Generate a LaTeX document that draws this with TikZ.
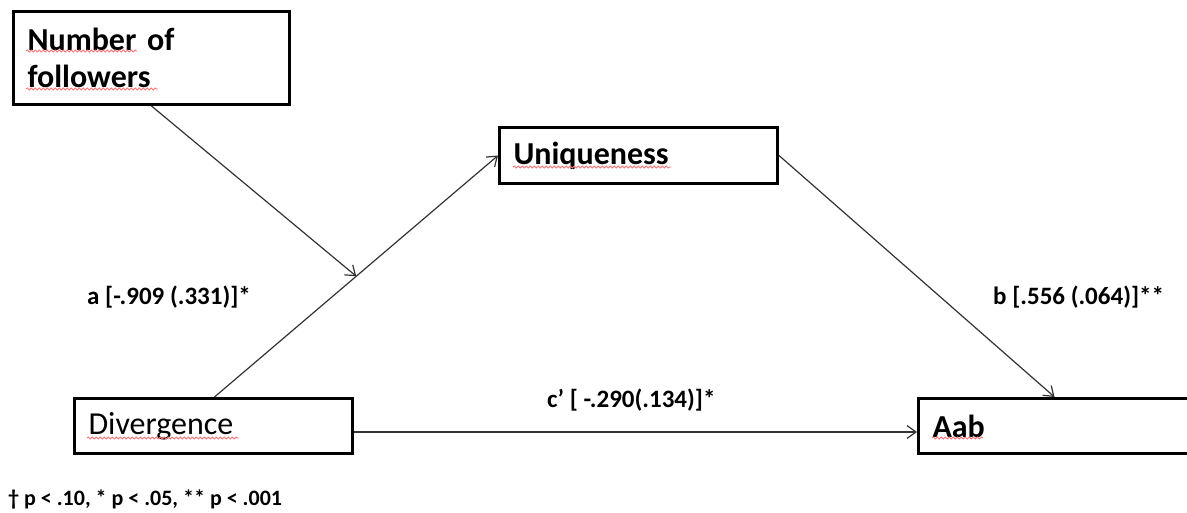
\documentclass[tikz,border=0pt]{standalone}
\usepackage{fontspec}
\setmainfont{Carlito}
\usetikzlibrary{arrows.meta,calc,decorations.pathmorphing}
\tikzset{
  varbox/.style={draw=black, line width=3pt, fill=white, anchor=north west, align=left,
    inner xsep=14pt, inner ysep=0pt, font=\fontsize{32}{37}\selectfont},
  conn/.style={draw=black!80, line width=1.2pt, -{Straight Barb[length=9pt,width=13pt,line width=1.2pt]}},
  coef/.style={anchor=base west, inner sep=0pt, font=\fontsize{25}{29}\selectfont\bfseries},
  squig/.style={draw=red!55, line width=0.8pt, decorate, decoration={snake, amplitude=1.1pt, segment length=4pt}},
}
\begin{document}
\begin{tikzpicture}[x=1pt,y=-1pt]
\useasboundingbox (0,0) rectangle (1187,513);
\node[varbox, text width=248pt, minimum height=93pt, font=\fontsize{32}{37}\selectfont\bfseries] (nf) at (12,10) {Number of\\followers};
\node[varbox, text width=250pt, minimum height=56pt, font=\fontsize{32}{37}\selectfont\bfseries] (un) at (498,126) {Uniqueness};
\node[varbox, text width=250pt, minimum height=55pt] (dv) at (73,397) {Divergence};
\node[varbox, text width=244pt, minimum height=55pt, font=\fontsize{32}{37}\selectfont\bfseries] (ab) at (917,397) {Aab};
\path[squig] (26,51) -- (137,51);
\path[squig] (26,89) -- (158,89);
\path[squig] (513,167) -- (671,167);
\path[squig] (87,438) -- (239,438);
\path[squig] (932,438) -- (983,438);
\coordinate (dvs) at ($(dv.north)+(1,0)$);
\coordinate (mid) at ($(dvs)!0.5!(un.west)$);
\draw[conn] (dvs) -- (un.west);
\draw[conn] (nf.south) -- (mid);
\draw[conn] (un.east) -- (ab.north);
\draw[conn] ($(dv.east)+(0,6)$) -- ($(ab.west)+(0,6)$);
\node[coef] (la) at (87,305) {a [-.909 (.331)]*};
\node[coef] (lb) at (993,305) {b [.556 (.064)]**};
\node[coef] (lc) at (547,407) {c’ [ -.290(.134)]*};
\node[coef, font=\fontsize{22}{26}\selectfont\bfseries] (fn) at (8,505) {† p < .10, * p < .05, ** p < .001};
\end{tikzpicture}
\end{document}
